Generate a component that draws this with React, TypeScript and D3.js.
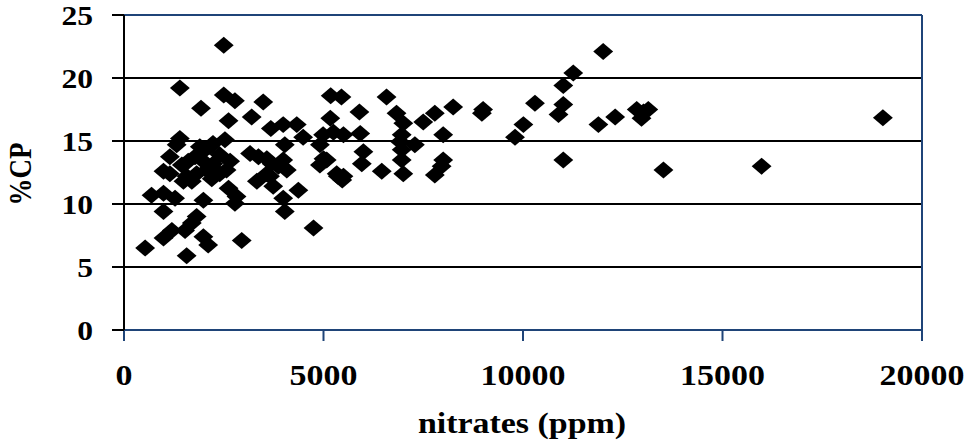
import React from "react";
import * as d3 from "d3";

const nitrates: number[] = [
  2500, 1400, 1930, 2500, 2780, 3490, 2620, 3200, 5180, 5450,
  6580, 5900, 5170, 6830, 7790, 8250, 8970, 7500, 7000, 3680,
  3990, 4330, 4490, 4990, 5250, 5500, 5920, 6960, 6920, 7290,
  8000, 1400, 1320, 2530, 2230, 2030, 1150, 990, 1150, 1450,
  1610, 1490, 1780, 1900, 2070, 2200, 1820, 1700, 2400, 2660,
  2400, 3160, 3370, 3580, 3330, 3580, 3740, 3870, 3990, 4030,
  4080, 4370, 3990, 4030, 4750, 4910, 5000, 4910, 5330, 690,
  990, 1280, 990, 1990, 2620, 2780, 2820, 1820, 1700, 1530,
  1200, 990, 1990, 2110, 2950, 530, 1570, 5080, 6000, 5960,
  6960, 6960, 7000, 6460, 5500, 5470, 8000, 7960, 7790, 12010,
  11260, 11010, 10300, 11010, 10890, 9000, 10010, 9800, 11890, 12310,
  13020, 12850, 13140, 12970, 11010, 13520, 19020, 15980, 1570, 1990,
  2240, 2570, 2160, 3700, 5360, 3660,
];

const cp: number[] = [
  22.6, 19.2, 17.6, 18.65, 18.2, 18.1, 16.6, 16.9, 18.6, 18.5,
  18.5, 17.3, 16.8, 17.2, 17.2, 17.7, 17.2, 16.5, 16.4, 16.0,
  16.3, 16.3, 15.3, 15.5, 15.7, 15.5, 15.6, 15.5, 14.95, 14.7,
  15.5, 15.2, 14.7, 15.1, 14.8, 14.3, 13.75, 12.6, 12.4, 13.1,
  13.4, 11.8, 13.75, 14.55, 12.7, 12.0, 12.4, 11.8, 12.4, 13.4,
  13.9, 14.0, 13.75, 13.6, 11.8, 12.4, 11.4, 13.0, 13.5, 14.7,
  12.7, 11.1, 10.45, 9.4, 8.1, 14.7, 13.6, 13.1, 12.4, 10.7,
  10.85, 10.45, 9.4, 10.3, 11.25, 10.05, 10.6, 9.0, 8.5, 7.9,
  7.9, 7.3, 7.4, 6.75, 7.1, 6.5, 5.9, 13.5, 14.15, 13.2,
  14.3, 13.5, 12.4, 12.6, 12.2, 11.9, 13.5, 13.0, 12.3, 22.1,
  20.4, 19.4, 18.0, 17.9, 17.1, 17.5, 16.3, 15.3, 16.3, 16.9,
  17.3, 17.5, 17.5, 16.8, 13.5, 12.7, 16.85, 13.0, 12.2, 13.4,
  13.2, 12.7, 14.55, 13.2, 12.2, 12.2,
];

const xTicks: number[] = [0, 5000, 10000, 15000, 20000];
const yTicks: number[] = [0, 5, 10, 15, 20, 25];
const xTitle = "nitrates (ppm)";
const yTitle = "%CP";

const W = 969;
const H = 446;
const L = 124;
const R = 922;
const T = 15;
const B = 330;
const SX = 1.17;
const BLUE = "#1f4478";
const FONT = "Liberation Serif, Times New Roman, serif";

export default function App() {
  const x = d3.scaleLinear().domain([0, 20000]).range([L, R]);
  const y = d3.scaleLinear().domain([0, 25]).range([B, T]);
  const marker = d3.symbol().type(d3.symbolSquare).size(144)() as string;

  return (
    <svg
      width={W}
      height={H}
      style={{ position: "absolute", left: 0, top: 0, background: "#fff" }}
    >
      {yTicks
        .filter((t) => t > 0 && t < 25)
        .map((t) => (
          <line
            key={"g" + t}
            x1={L}
            x2={R}
            y1={y(t)}
            y2={y(t)}
            stroke="#000"
            strokeWidth={2}
          />
        ))}
      <line x1={L} x2={R} y1={T} y2={T} stroke={BLUE} strokeWidth={2} />
      <line x1={R} x2={R} y1={T} y2={B} stroke={BLUE} strokeWidth={2} />
      <line x1={L} x2={R} y1={B} y2={B} stroke={BLUE} strokeWidth={2} />
      {xTicks.map((t) => (
        <line
          key={"xt" + t}
          x1={x(t)}
          x2={x(t)}
          y1={B}
          y2={B + 11}
          stroke={BLUE}
          strokeWidth={2}
        />
      ))}
      <line x1={L} x2={L} y1={T} y2={B} stroke="#000" strokeWidth={2} />
      {yTicks.map((t) => (
        <line
          key={"yt" + t}
          x1={L - 12}
          x2={L}
          y1={y(t)}
          y2={y(t)}
          stroke="#000"
          strokeWidth={2}
        />
      ))}
      {nitrates.map((n, i) => (
        <path
          key={"p" + i}
          d={marker}
          fill="#000"
          transform={`translate(${x(n)},${y(cp[i])}) scale(${SX},1) rotate(45)`}
        />
      ))}
      {yTicks.map((t) => (
        <text
          key={"yl" + t}
          transform={`translate(93,${y(t) + 10}) scale(${SX},1)`}
          textAnchor="end"
          style={{ fontFamily: FONT, fontWeight: 700, fontSize: 27 }}
          fill="#000"
        >
          {t}
        </text>
      ))}
      {xTicks.map((t) => (
        <text
          key={"xl" + t}
          transform={`translate(${x(t)},385) scale(${SX},1)`}
          textAnchor="middle"
          style={{ fontFamily: FONT, fontWeight: 700, fontSize: 29 }}
          fill="#000"
        >
          {t}
        </text>
      ))}
      <text
        transform={`translate(522,433) scale(${SX},1)`}
        textAnchor="middle"
        style={{ fontFamily: FONT, fontWeight: 700, fontSize: 29 }}
        fill="#000"
      >
        {xTitle}
      </text>
      <text
        transform={`translate(31,174) scale(${SX},1) rotate(-90)`}
        textAnchor="middle"
        style={{ fontFamily: FONT, fontWeight: 700, fontSize: 27 }}
        fill="#000"
      >
        {yTitle}
      </text>
    </svg>
  );
}
